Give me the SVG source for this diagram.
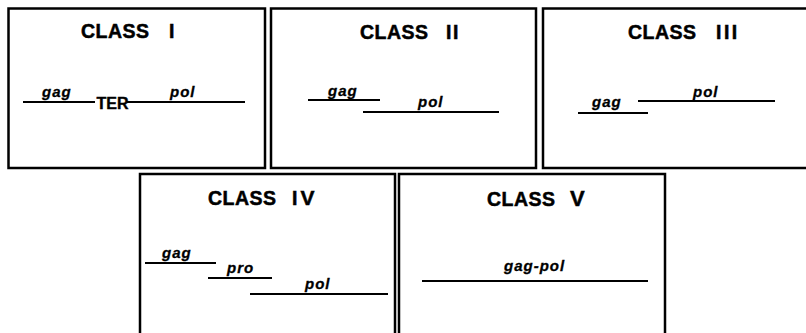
<svg xmlns="http://www.w3.org/2000/svg" width="806" height="333" viewBox="0 0 806 333">
<style>
.box{fill:#fff;stroke:#000;stroke-width:2.5}
.seg{stroke:#000;stroke-width:2.2;fill:none}
.title{font-family:"Liberation Sans",Arial,sans-serif;font-weight:bold;font-size:19.5px;letter-spacing:0.5px;fill:#000;stroke:#000;stroke-width:0.5}
.gene{font-family:"Liberation Sans",Arial,sans-serif;font-weight:bold;font-style:italic;font-size:15px;letter-spacing:1px;fill:#000;stroke:#000;stroke-width:0.3}
.ter{font-family:"Liberation Sans",Arial,sans-serif;font-weight:bold;font-size:16px;fill:#000;stroke:#000;stroke-width:0.4}
</style>
<rect width="806" height="333" fill="#fff"/>
<g id="class1">
<rect class="box" x="8.5" y="8.5" width="256.5" height="159.5"/>
<text class="title" x="81" y="38">CLASS <tspan x="169">I</tspan></text>
<line class="seg" x1="23" y1="102" x2="95" y2="102"/>
<text class="ter" x="96.5" y="109">TER</text>
<line class="seg" x1="127" y1="102" x2="245" y2="102"/>
<text class="gene" x="42" y="97">gag</text>
<text class="gene" x="170" y="97">pol</text>
</g>
<g id="class2">
<rect class="box" x="271" y="8.5" width="265" height="159.5"/>
<text class="title" x="360" y="39">CLASS <tspan x="446" style="letter-spacing:1.5px">II</tspan></text>
<line class="seg" x1="308" y1="100" x2="380" y2="100"/>
<text class="gene" x="328" y="96">gag</text>
<line class="seg" x1="363" y1="112" x2="499" y2="112"/>
<text class="gene" x="418" y="107">pol</text>
</g>
<g id="class3">
<rect class="box" x="543" y="8.5" width="266" height="159.5"/>
<text class="title" x="628" y="39">CLASS <tspan x="716" style="letter-spacing:2.5px">III</tspan></text>
<line class="seg" x1="638" y1="101" x2="775" y2="101"/>
<text class="gene" x="693" y="97">pol</text>
<line class="seg" x1="578" y1="113" x2="648" y2="113"/>
<text class="gene" x="592" y="107">gag</text>
</g>
<g id="class4">
<rect class="box" x="140" y="174" width="255" height="162"/>
<text class="title" x="208" y="205">CLASS <tspan x="292" style="letter-spacing:3px">I</tspan><tspan style="font-size:21px">V</tspan></text>
<line class="seg" x1="145" y1="263" x2="216" y2="263"/>
<text class="gene" x="162" y="258">gag</text>
<line class="seg" x1="208" y1="278" x2="272" y2="278"/>
<text class="gene" x="227" y="273">pro</text>
<line class="seg" x1="250" y1="294" x2="388" y2="294"/>
<text class="gene" x="305" y="289">pol</text>
</g>
<g id="class5">
<rect class="box" x="399" y="174" width="266" height="162"/>
<text class="title" x="487" y="206">CLASS <tspan x="570" style="font-size:22px">V</tspan></text>
<text class="gene" x="504" y="271">gag-pol</text>
<line class="seg" x1="422" y1="281" x2="648" y2="281"/>
</g>
<g id="connectors"/>
</svg>
